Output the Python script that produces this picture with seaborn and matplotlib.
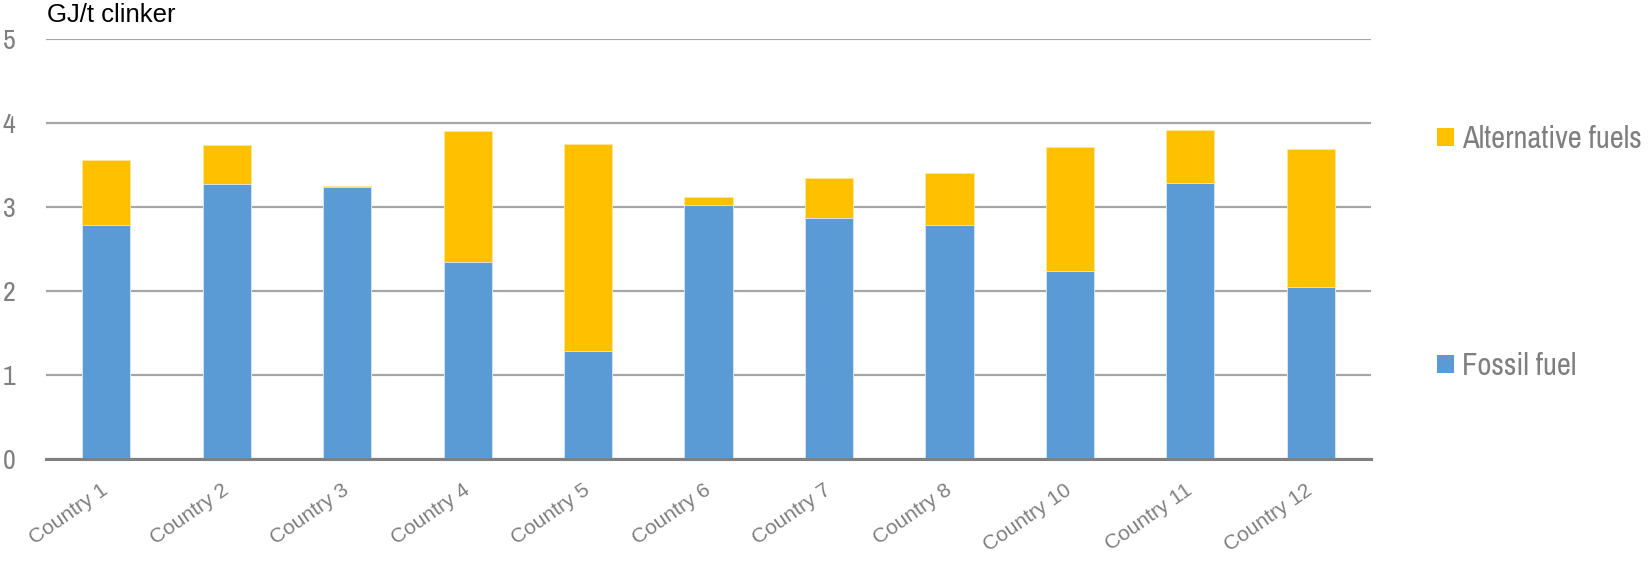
import matplotlib
matplotlib.use("Agg")
import matplotlib.pyplot as plt
from matplotlib.patches import Patch
import numpy as np
import pandas as pd
import seaborn as sns

countries = ["Country 1", "Country 2", "Country 3", "Country 4", "Country 5", "Country 6",
             "Country 7", "Country 8", "Country 10", "Country 11", "Country 12"]
fossil_fuel = [2.78, 3.27, 3.24, 2.35, 1.29, 3.02, 2.87, 2.78, 2.24, 3.28, 2.05]
alternative_fuels = [0.78, 0.47, 0.015, 1.56, 2.46, 0.095, 0.48, 0.62, 1.48, 0.64, 1.635]
y_ticks = [0, 1, 2, 3, 4, 5]
unit_label = "GJ/t clinker"

sns.set_theme(style="white")
plt.rcParams["font.family"] = ["Liberation Sans", "DejaVu Sans"]
NARROW = ["Archivo Narrow", "Liberation Sans", "DejaVu Sans"]

df = pd.DataFrame({"country": countries, "fossil": fossil_fuel, "alt": alternative_fuels})
df["total"] = df["fossil"] + df["alt"]

BLUE = "#5B9BD5"
GOLD = "#FFC000"
GRAY = "#7F7F7F"

fig = plt.figure(figsize=(16.48, 5.62), dpi=100)
ax = fig.add_axes([46 / 1648, 1 - 459 / 562, (1371 - 46) / 1648, (459 - 39) / 562])

sns.barplot(data=df, x="country", y="total", color=GOLD, saturation=1, width=0.4,
            edgecolor="#FFE699", linewidth=0.6, ax=ax)
sns.barplot(data=df, x="country", y="fossil", color=BLUE, saturation=1, width=0.4,
            edgecolor="#DDEBF7", linewidth=0.6, ax=ax)

ax.set_xlim(-0.5, len(countries) - 0.5)
ax.set_ylim(0, 5)
ax.set_yticks(y_ticks)
ax.set_xlabel("")
ax.set_ylabel("")
ax.set_axisbelow(True)
ax.yaxis.grid(True, color="#A6A6A6", linewidth=1.6)
ax.xaxis.grid(False)
for s in ["top", "right", "left"]:
    ax.spines[s].set_visible(False)
ax.spines["bottom"].set_color("#808080")
ax.spines["bottom"].set_linewidth(2.2)
ax.tick_params(axis="both", length=0)
ax.tick_params(axis="y", labelsize=20, labelcolor=GRAY, pad=22)
ax.tick_params(axis="x", labelsize=15, labelcolor=GRAY, pad=21)

for lbl in ax.get_yticklabels():
    lbl.set_family(NARROW)
for lbl in ax.get_xticklabels():
    lbl.set_rotation(35)
    lbl.set_ha("right")
    lbl.set_va("center")
    lbl.set_rotation_mode("anchor")

fig.text(47 / 1648, 1 - 3 / 562, unit_label, ha="left", va="top", fontsize=18.5, color="black")

leg_kw = dict(loc="center left", frameon=False, labelcolor=GRAY,
              prop={"family": NARROW, "size": 22},
              handlelength=0.55, handleheight=0.55, handletextpad=0.27,
              borderpad=0, borderaxespad=0)
leg1 = fig.legend(handles=[Patch(facecolor=GOLD, edgecolor="none", label="Alternative fuels")],
                  bbox_to_anchor=(1437 / 1648, 1 - 139 / 562), **leg_kw)
leg2 = fig.legend(handles=[Patch(facecolor=BLUE, edgecolor="none", label="Fossil fuel")],
                  bbox_to_anchor=(1437 / 1648, 1 - 366 / 562), **leg_kw)

fig.savefig("out.png", dpi=100)
